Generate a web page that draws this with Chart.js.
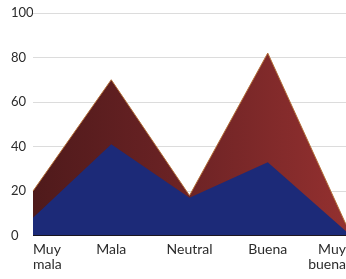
<!DOCTYPE html>
<html>
<head>
<meta charset="utf-8">
<script src="https://cdn.jsdelivr.net/npm/chart.js@4"></script>
<style>
  html, body { margin: 0; padding: 0; background: #ffffff; }
  #wrap { width: 346px; height: 279px; }
</style>
</head>
<body>
<div id="wrap"><canvas id="chart-area" width="346" height="279"></canvas></div>
<script>
var categories = [["Muy", "mala"], "Mala", "Neutral", "Buena", ["Muy", "buena"]];
var serieRoja = [20, 70, 18, 82, 5];
var serieAzul = [8, 41, 17, 33, 2];
var yTicks = [0, 20, 40, 60, 80, 100];

var ctx = document.getElementById("chart-area").getContext("2d");

var redGradient = ctx.createLinearGradient(33, 0, 346, 0);
redGradient.addColorStop(0, "#4f1a1b");
redGradient.addColorStop(0.45, "#6a2224");
redGradient.addColorStop(1, "#93302f");

new Chart(ctx, {
  type: "line",
  data: {
    labels: categories,
    datasets: [{
      label: "Azul",
      data: serieAzul,
      borderWidth: 0,
      pointRadius: 0,
      tension: 0,
      backgroundColor: "#1c2a78",
      borderColor: "#1c2a78",
      fill: "origin"
    },
    {
      label: "Roja",
      data: serieRoja,
      borderWidth: 1,
      pointRadius: 0,
      tension: 0,
      backgroundColor: redGradient,
      borderColor: "#b4703a",
      fill: "origin"
    }]
  },
  options: {
    responsive: false,
    animation: false,
    layout: { padding: { left: 11, top: 13, right: 0, bottom: 0 } },
    plugins: {
      legend: { display: false },
      tooltip: { enabled: false }
    },
    scales: {
      y: {
        min: 0,
        max: 100,
        afterBuildTicks: function (scale) {
          scale.ticks = yTicks.map(function (v) { return { value: v }; });
        },
        afterFit: function (scale) { scale.width = 22; },
        border: { display: false },
        grid: {
          color: "#dcdcdc",
          lineWidth: 1,
          drawTicks: false
        },
        ticks: {
          crossAlign: "far",
          padding: 0,
          color: "#2b2b2b",
          font: { size: 13, family: "Lato" }
        }
      },
      x: {
        offset: false,
        afterFit: function (scale) {
          scale.paddingLeft = 0;
          scale.paddingRight = 0;
        },
        border: { display: true, color: "#111111", width: 1 },
        grid: { display: false, drawTicks: false },
        ticks: {
          align: "inner",
          maxRotation: 0,
          autoSkip: false,
          padding: 7,
          color: "#2b2b2b",
          font: { size: 14, family: "Lato", lineHeight: 1.05 }
        }
      }
    }
  }
});
</script>
</body>
</html>
